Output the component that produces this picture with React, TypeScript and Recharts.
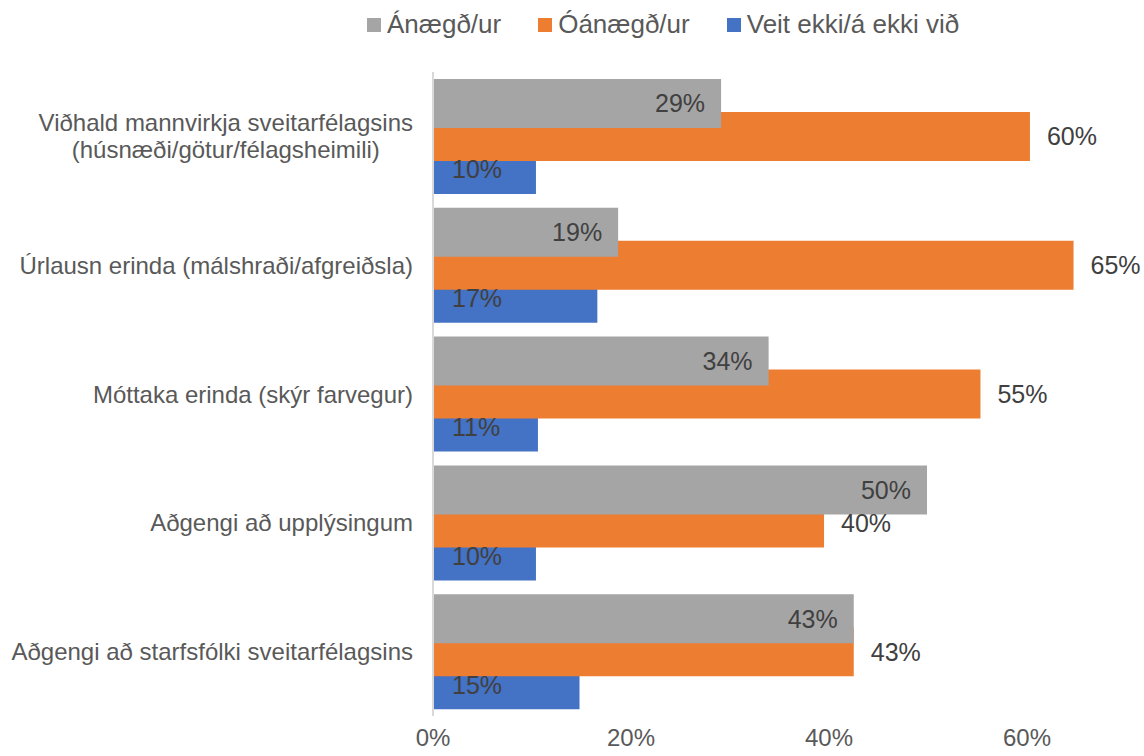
import React from "react";
import { BarChart, Bar, XAxis, YAxis, LabelList, Legend } from "recharts";

const categories = [
  "Viðhald mannvirkja sveitarfélagsins\n(húsnæði/götur/félagsheimili)",
  "Úrlausn erinda (málshraði/afgreiðsla)",
  "Móttaka erinda (skýr farvegur)",
  "Aðgengi að upplýsingum",
  "Aðgengi að starfsfólki sveitarfélagsins",
];
const seriesNames = ["Ánægð/ur", "Óánægð/ur", "Veit ekki/á ekki við"];
const satisfied = [0.291, 0.187, 0.339, 0.499, 0.425];
const dissatisfied = [0.603, 0.647, 0.553, 0.395, 0.425];
const dontKnow = [0.104, 0.166, 0.106, 0.104, 0.148];
const xTicks = [0, 0.2, 0.4, 0.6];

const FONT = "'Liberation Sans', Arial, sans-serif";
const TEXT = "#595959";

const data = categories.map((name, i) => ({
  name,
  satisfied: satisfied[i],
  dissatisfied: dissatisfied[i],
  dontKnow: dontKnow[i],
}));

const pct = (v: any) => `${Math.round(Number(v) * 100)}%`;

let ctx: CanvasRenderingContext2D | null = null;
const measure = (s: string, size: number) => {
  if (!ctx) ctx = document.createElement("canvas").getContext("2d");
  if (!ctx) return s.length * size * 0.5;
  ctx.font = `${size}px "Liberation Sans"`;
  return ctx.measureText(s).width;
};

// flokkaheiti: ein lína hægrijöfnuð, fleiri línur miðjaðar
const CategoryTick = (props: any) => {
  const { x, y, payload } = props;
  const lines = String(payload.value).split("\n");
  const right = x - 12;
  const size = 24;
  const lineH = 27;
  if (lines.length === 1) {
    return (
      <text x={right} y={y} textAnchor="end" dominantBaseline="central"
        fill={TEXT} fontSize={size} fontFamily={FONT}>
        {lines[0]}
      </text>
    );
  }
  const widest = Math.max(...lines.map((l) => measure(l, size)));
  const cx = right - widest / 2;
  return (
    <text textAnchor="middle" fill={TEXT} fontSize={size} fontFamily={FONT}>
      {lines.map((l, i) => (
        <tspan key={i} x={cx} y={y + (i - (lines.length - 1) / 2) * lineH} dominantBaseline="central">
          {l}
        </tspan>
      ))}
    </text>
  );
};

const renderLegend = (props: any) => {
  const items = [...(props.payload || [])].sort(
    (a: any, b: any) => seriesNames.indexOf(a.value) - seriesNames.indexOf(b.value)
  );
  return (
    <div style={{ display: "flex", alignItems: "center", fontFamily: FONT, fontSize: 26, color: TEXT, whiteSpace: "nowrap" }}>
      {items.map((p: any, i: number) => (
        <div key={i} style={{ display: "flex", alignItems: "center", marginRight: 37 }}>
          <span style={{ display: "inline-block", width: 14, height: 14, background: p.color, marginRight: 6 }} />
          <span>{p.value}</span>
        </div>
      ))}
    </div>
  );
};

export default function App() {
  return (
    <div style={{ position: "absolute", left: 0, top: 0, background: "#fff" }}>
      <BarChart
        width={1144}
        height={756}
        data={data}
        layout="vertical"
        margin={{ top: 72, right: 18, bottom: 0, left: 0 }}
        barSize={49}
        barGap={-16}
      >
        <XAxis
          type="number"
          domain={[0, 0.7]}
          ticks={xTicks}
          tickFormatter={pct}
          axisLine={false}
          tickLine={false}
          height={40}
          tickMargin={7}
          tick={{ fill: TEXT, fontSize: 24, fontFamily: FONT }}
        />
        <YAxis
          type="category"
          dataKey="name"
          width={433}
          tickLine={false}
          axisLine={{ stroke: "#d9d9d9", strokeWidth: 2 }}
          tick={<CategoryTick />}
          interval={0}
        />
        <Legend
          layout="horizontal"
          verticalAlign="middle"
          align="center"
          content={renderLegend}
          wrapperStyle={{ top: 9, left: 367, width: 720 }}
        />
        <Bar dataKey="satisfied" name={seriesNames[0]} fill="#A5A5A5" isAnimationActive={false} zIndex={302}>
          <LabelList dataKey="satisfied" position="insideRight" offset={16} formatter={pct}
            fill="#404040" fontSize={25} fontFamily={FONT} />
        </Bar>
        <Bar dataKey="dissatisfied" name={seriesNames[1]} fill="#ED7D31" isAnimationActive={false} zIndex={301}>
          <LabelList dataKey="dissatisfied" position="right" offset={17} formatter={pct}
            fill="#404040" fontSize={25} fontFamily={FONT} />
        </Bar>
        <Bar dataKey="dontKnow" name={seriesNames[2]} fill="#4472C4" isAnimationActive={false} zIndex={300}>
          <LabelList dataKey="dontKnow" position="insideLeft" offset={19} formatter={pct}
            fill="#404040" fontSize={25} fontFamily={FONT} />
        </Bar>
      </BarChart>
    </div>
  );
}
